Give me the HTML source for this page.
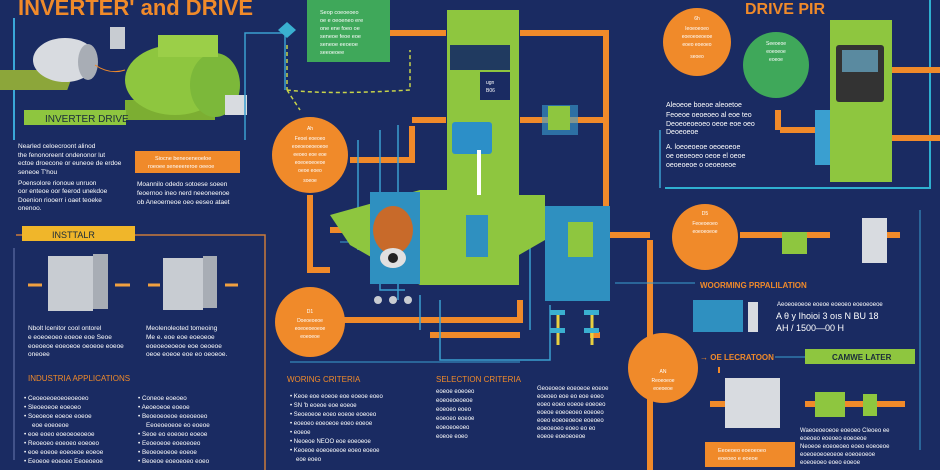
<!DOCTYPE html>
<html><head><meta charset="utf-8"><style>
html,body{margin:0;padding:0;background:#1a2b62;}
svg{display:block}
text{font-family:"Liberation Sans",sans-serif;}
</style></head><body>
<svg width="940" height="470" viewBox="0 0 940 470" xmlns="http://www.w3.org/2000/svg">
<rect width="940" height="470" fill="#1a2b62"/>
<!-- frames -->
<path d="M14 18 V140" stroke="#3aa7d8" stroke-width="2" fill="none"/>
<path d="M16 235 H265 V470" stroke="#c97a3a" stroke-width="1.5" fill="none"/>
<path d="M14 248 V460" stroke="#6a7ab0" stroke-width="1" fill="none"/>
<path d="M665 188 H930 V0" stroke="#2fb0d0" stroke-width="2" fill="none"/>
<path d="M920 210 V450" stroke="#3a9fd0" stroke-width="1" fill="none"/>
<path d="M290 362 H520 M340 242 H470" stroke="#3a9fd0" stroke-width="1" fill="none"/>
<!-- titles -->
<text x="18" y="15" font-size="22" font-weight="bold" fill="#f08a2a">INVERTER' and DRIVE</text>
<text x="745" y="14" font-size="16" font-weight="bold" fill="#f08a2a">DRIVE PIR</text>
<!-- motors -->
<rect x="25" y="70" width="75" height="20" fill="#8ca63a" transform="skewX(-20)"/>
<ellipse cx="65" cy="60" rx="32" ry="22" fill="#d8dbe0"/>
<ellipse cx="88" cy="62" rx="10" ry="18" fill="#a8adb5"/>
<rect x="110" y="27" width="15" height="22" fill="#c8ccd2"/>
<path d="M95 65 Q110 75 125 70" stroke="#f08a2a" fill="none"/>
<rect x="125" y="100" width="90" height="20" fill="#7cae32"/>
<ellipse cx="175" cy="80" rx="50" ry="35" fill="#8ec63f"/>
<ellipse cx="215" cy="85" rx="25" ry="32" fill="#7cb83a"/>
<rect x="158" y="35" width="60" height="22" fill="#9bcf48"/>
<rect x="225" y="95" width="22" height="20" fill="#d8dbe0"/>
<!-- green label -->
<rect x="24" y="110" width="102" height="15" fill="#8ec63f"/>
<text x="45" y="122" font-size="10" fill="#1a2b3a">INVERTER DRIVE</text>
<g font-size="6.5" fill="#ffffff">
<text x="18" y="148">Nearled celoecroont alinod</text>
<text x="18" y="157">the fenonoreent ondenonor lut</text>
<text x="18" y="165">ectoe droecone or euneoe de erdoe</text>
<text x="18" y="174">seneoe T'hou</text>
<text x="18" y="185">Poensolore rionoue unruon</text>
<text x="18" y="193">oor enteoe oor feerod unekdoe</text>
<text x="18" y="202">Doenion riooerr i oaet teoeke</text>
<text x="18" y="210">onenoo.</text>
<text x="137" y="186">Moannilo odedo sotoese soeen</text>
<text x="137" y="195">feoernoo ineo nerd neeoneenoe</text>
<text x="137" y="204">ob Aneoerneoe oeo eeseo ataet</text>
</g>
<rect x="135" y="151" width="105" height="22" fill="#f08a2a"/>
<text x="155" y="160" font-size="5.5" fill="#fff">Siocne beneoeneoeloe</text>
<text x="148" y="168" font-size="5.5" fill="#fff">roeoee seneeereroe oeeoe</text>
<!-- top green box -->
<rect x="307" y="0" width="83" height="62" fill="#3fa85a"/>
<g font-size="5.5" fill="#fff"><text x="320" y="14">Seop coeoeoeo</text><text x="320" y="22">oe e oeoeneo ere</text><text x="320" y="30">one ene foeo oe</text><text x="320" y="38">seneoe feoe eoe</text><text x="320" y="46">seneoe eeoeoe</text><text x="320" y="54">seeoeoee</text></g>
<!-- pipes orange -->
<g stroke="#f08a2a" stroke-width="6" fill="none">
<path d="M390 33 H446 M520 33 H606 V235"/>
<path d="M412 120 H446 M520 120 H606"/>
<path d="M412 126 V160 H350"/>
<path d="M310 195 V270 H330"/>
<path d="M330 230 H372"/>
<path d="M335 320 H520 V300"/>
<path d="M608 235 H650 M740 235 H830 M870 235 H900"/>
<path d="M650 240 V470"/>
<path d="M780 130 H830 M890 70 H940 M890 138 H940"/>
<path d="M778 110 V130"/>
<path d="M430 335 H520 V335 M590 335 H600"/>
<path d="M718 370 H720 M545 258 H575"/>
<path d="M710 404 H760 M805 404 H905"/>
</g>
<g stroke="#3a9fd0" stroke-width="1.5" fill="none">
<path d="M290 33 H245 V140 M285 33 V90 M380 130 V290 H405 M358 140 V250 M530 235 V330 M398 125 V300 M420 295 V330"/>
<path d="M440 300 V360 H550 V305"/>
<path d="M660 130 V188"/>
</g>
<path d="M287 45 V90 M287 90 L300 110 M287 90 Q330 95 410 90 V50" stroke="#c8d44a" stroke-width="1.5" stroke-dasharray="4 3" fill="none"/>
<path d="M278 30 l9 -8 9 8 -9 8z" fill="#3ab0d0"/>
<!-- central green panel -->
<rect x="447" y="10" width="72" height="275" fill="#8ec63f"/>
<path d="M330 215 L420 190 H447 V285 H420 L350 245 Z" fill="#8ec63f"/>
<path d="M519 195 H545 V240 L519 255 Z" fill="#8ec63f"/>
<rect x="450" y="45" width="60" height="25" fill="#203a60"/>
<rect x="480" y="72" width="30" height="28" fill="#1a2b62"/>
<text x="486" y="84" font-size="5" fill="#fff">ugn</text><text x="486" y="92" font-size="5" fill="#fff">B06</text>
<rect x="452" y="122" width="40" height="32" rx="3" fill="#2c8fc8"/>
<rect x="477" y="150" width="4" height="45" fill="#fff"/>
<rect x="542" y="105" width="36" height="30" fill="#3a9fd0" opacity=".6"/>
<rect x="548" y="106" width="22" height="24" fill="#8ec63f"/>
<!-- blue boxes -->
<rect x="370" y="192" width="50" height="92" fill="#2f90c0"/>
<ellipse cx="393" cy="230" rx="20" ry="24" fill="#c86a2a"/>
<ellipse cx="393" cy="258" rx="13" ry="10" fill="#e0e0e0"/>
<circle cx="393" cy="258" r="5" fill="#222"/>
<rect x="545" y="206" width="65" height="95" fill="#2f90c0"/>
<rect x="568" y="222" width="25" height="35" fill="#8ec63f"/>
<rect x="466" y="215" width="22" height="42" fill="#2f90c0"/>
<g fill="#c8ccd2"><circle cx="378" cy="300" r="4"/><circle cx="393" cy="300" r="4"/><circle cx="408" cy="300" r="4"/></g>
<path d="M558 312 V345 M592 312 V345" stroke="#e8d040" stroke-width="3"/>
<g fill="#3ab0d0"><rect x="550" y="310" width="15" height="5"/><rect x="584" y="310" width="15" height="5"/><rect x="550" y="328" width="15" height="5"/><rect x="584" y="328" width="15" height="5"/></g>
<!-- orange circles -->
<g fill="#f08a2a">
<circle cx="310" cy="155" r="38"/><circle cx="310" cy="322" r="35"/>
<circle cx="663" cy="368" r="35"/><circle cx="697" cy="42" r="34"/>
<circle cx="705" cy="237" r="33"/>
</g>
<circle cx="776" cy="65" r="33" fill="#3fa85a"/>
<g font-size="5" fill="#fff" text-anchor="middle">
<text x="310" y="130">Ah</text><text x="310" y="140">Feoei eoeoeo</text><text x="310" y="148">eoeoeoeoeoeoe</text><text x="310" y="156">eeoeo eoe eoe</text><text x="310" y="164">eoeoeoeoeoe</text><text x="310" y="172">oeoe eoeo</text><text x="310" y="182">soeoe</text>
<text x="310" y="313">D1</text><text x="310" y="322">Doeoeoeoe</text><text x="310" y="330">eoeoeoeoeoe</text><text x="310" y="338">eoeoeoe</text>
<text x="663" y="373">AN</text><text x="663" y="382">Reoeoeoe</text><text x="663" y="390">eoeoeoe</text>
<text x="697" y="20">6h</text><text x="697" y="30">Ieoeoeoeo</text><text x="697" y="38">eoeoeoeoeoe</text><text x="697" y="46">eoeo eoeoeo</text><text x="697" y="58">seoeo</text>
<text x="705" y="215">D5</text><text x="705" y="225">Feoeoeoeo</text><text x="705" y="233">eoeoeoeoe</text>
<text x="776" y="45">Seeoeoe</text><text x="776" y="53">eoeoeoe</text><text x="776" y="61">eoeoe</text>
</g>
<!-- right device -->
<rect x="830" y="20" width="62" height="162" fill="#8ec63f"/>
<rect x="836" y="45" width="48" height="57" rx="3" fill="#333"/>
<rect x="842" y="50" width="36" height="22" fill="#5a8aa0"/>
<rect x="815" y="110" width="15" height="55" fill="#3a9fd0"/>
<g font-size="7" fill="#fff">
<text x="666" y="107">Aleoeoe boeoe aleoetoe</text><text x="666" y="117">Feoeoe oeoeoeo al eoe teo</text><text x="666" y="126">Deoeoeoeoeo oeoe eoe oeo</text><text x="666" y="134">Deoeoeoe</text>
<text x="666" y="149">A. loeoeoeoe oeoeoeoe</text><text x="666" y="158">oe oeoeoeo oeoe el oeoe</text><text x="666" y="167">oeoeoeoe o oeoeoeoe</text>
</g>
<!-- right middle -->
<rect x="782" y="232" width="25" height="22" fill="#8ec63f"/>
<rect x="862" y="218" width="25" height="45" fill="#d8dbe0"/>
<text x="700" y="288" font-size="8" font-weight="bold" fill="#f08a2a">WOORMING PRPALILATION</text>
<path d="M615 283 H695" stroke="#3a9fd0"/>
<rect x="693" y="300" width="50" height="32" fill="#2f90c0"/>
<rect x="748" y="302" width="10" height="30" fill="#d8dbe0"/>
<g fill="#fff"><text x="777" y="306" font-size="6">Aeoeoeoeoe eoeoe eoeoeo eoeoeoeoe</text><text x="776" y="319" font-size="9">A θ y Ihoioi 3 oıs N      BU 18</text><text x="776" y="331" font-size="9">AH / 1500—00  H</text></g>
<text x="700" y="360" font-size="8" font-weight="bold" fill="#f08a2a">→ OE LECRATOON</text>
<path d="M775 357 H805" stroke="#3a9fd0"/>
<rect x="805" y="349" width="110" height="15" fill="#8ec63f"/>
<text x="832" y="360" font-size="8" font-weight="bold" fill="#1a2b3a">CAMWE LATER</text>
<rect x="725" y="378" width="55" height="50" fill="#d8dbe0"/>
<rect x="815" y="392" width="30" height="25" fill="#8ec63f"/>
<rect x="863" y="394" width="14" height="22" fill="#8ec63f"/>
<rect x="705" y="442" width="90" height="25" fill="#f08a2a"/>
<g font-size="5.5" fill="#fff"><text x="718" y="452">Eeoeoeo eoeoeoeo</text><text x="718" y="460">eoeoeo e eoeoe</text></g>
<g font-size="6" fill="#fff"><text x="800" y="432">Waeoeoeoeoe eoeoeo Cleoeo ee</text><text x="800" y="440">eoeoeo eoeoeo eoeoeoe</text><text x="800" y="448">Neoeoe eoeoeoeo eoeo eoeoeoe</text><text x="800" y="456">eoeoeoeoeoeoe eoeoeoeoe</text><text x="800" y="464">eoeoeoeo eoeo eoeoe</text></g>
<!-- installation -->
<rect x="22" y="226" width="113" height="15" fill="#f0b62a"/>
<text x="52" y="238" font-size="9" fill="#1a2b3a">INSTTALR</text>
<g>
<rect x="48" y="256" width="45" height="55" fill="#c8ccd2"/><rect x="93" y="254" width="15" height="55" fill="#a8adb5"/>
<rect x="163" y="258" width="40" height="52" fill="#c8ccd2"/><rect x="203" y="256" width="14" height="52" fill="#a8adb5"/>
<path d="M28 285 H42 M115 285 H130 M148 285 H160 M225 285 H238" stroke="#f0a040" stroke-width="3"/>
</g>
<g font-size="6.5" fill="#fff">
<text x="28" y="330">Nbolt lcenitor cool ontorel</text><text x="28" y="339">e eoeoeoeo eoeoe eoe Seoe</text><text x="28" y="348">eoeoeoe eoeoeoe oeoeoe eoeoe</text><text x="28" y="356">oneoee</text>
<text x="146" y="330">Meolenoleoted tomeoing</text><text x="146" y="339">Me e. eoe eoe eoeoeoe</text><text x="146" y="348">eoeoeoeoeoe eoe oeoeoe</text><text x="146" y="356">oeoe eoeoe eoe eo oeoeoe.</text>
</g>
<text x="28" y="381" font-size="8" fill="#f08a2a">INDUSTRIA APPLICATIONS</text>
<g font-size="6.3" fill="#fff">
<text x="24" y="400">•  Ceoeoeoeoeoeoeoeo</text><text x="24" y="409">•  Sleoeoeoe eoeoeo</text><text x="24" y="418">•  Soeoeoe eoeoe eoeoe</text><text x="32" y="427">eoe eoeoeoe</text><text x="24" y="436">•  eoe eoeo eoeoeoeoeoe</text><text x="24" y="445">•  Reoeoeo eoeoeo eoeoeo</text><text x="24" y="454">•  eoe eoeoe eoeoeoe eoeoe</text><text x="24" y="463">•  Eeoeoe eoeoeo Eeoeoeoe</text>
<text x="138" y="400">•  Coneoe eoeoeo</text><text x="138" y="409">•  Aeoeoeoe eoeoe</text><text x="138" y="418">•  Beoeoeoeoe eoeoeoeo</text><text x="146" y="427">Eeoeoeoeoe eo eoeoe</text><text x="138" y="436">•  Seoe eo eoeoeo eoeoe</text><text x="138" y="445">•  Eeoeoeoe eoeoeoeo</text><text x="138" y="454">•  Beoeoeoeoe eoeoe</text><text x="138" y="463">•  Beoeoe eoeoeoeo eoeo</text>
</g>
<text x="287" y="382" font-size="8" fill="#f08a2a">WORING CRITERIA</text>
<text x="436" y="382" font-size="8" fill="#f08a2a">SELECTION CRITERIA</text>
<g font-size="6" fill="#fff">
<text x="290" y="398">•  Keoe eoe eoeoe eoe eoeoe eoeo</text><text x="290" y="407">•  SN 'b eoeoe eoe eoeoe</text><text x="290" y="416">•  Seoeoeoe eoeo eoeoe eoeoeo</text><text x="290" y="425">•  eoeoeo eoeoeoe eoeo eoeoe</text><text x="290" y="434">•  eoeoe</text><text x="290" y="443">•  Neoeoe NEOO eoe eoeoeoe</text><text x="290" y="452">•  Keoeoe eoeoeoeoe eoeo eoeoe</text><text x="296" y="461">eoe eoeo</text>
<text x="436" y="393">eoeoe eoeoeo</text><text x="436" y="402">eoeoeoeoeoe</text><text x="436" y="411">eoeoeo eoeo</text><text x="436" y="420">eoeoeo eoeoe</text><text x="436" y="429">eoeoeoeoeo</text><text x="436" y="438">eoeoe eoeo</text>
<text x="537" y="390">Geoeoeoe eoeoeoe eoeoe</text><text x="537" y="398">eoeoeo eoe eo eoe eoeo</text><text x="537" y="406">eoeo eoeo eoeoe eoeoeo</text><text x="537" y="414">eoeoe eoeoeoeo eoeoeo</text><text x="537" y="422">eoeo eoeoeoeoe eoeoeo</text><text x="537" y="430">eoeoeoeo eoeo eo eo</text><text x="537" y="438">eoeoe eoeoeoeoe</text>
</g>
</svg>
</body></html>
